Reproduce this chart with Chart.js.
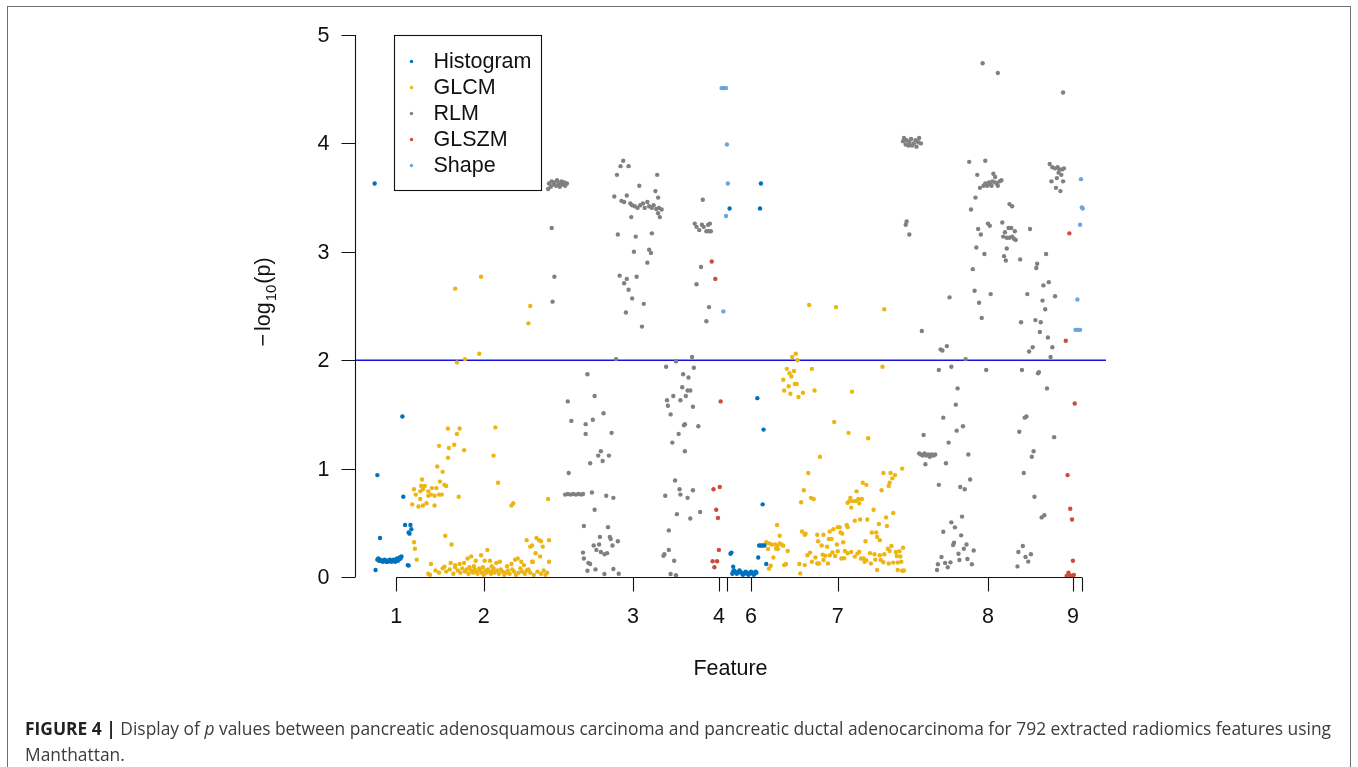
<!DOCTYPE html>
<html>
<head>
<meta charset="utf-8">
<script src="https://cdn.jsdelivr.net/npm/chart.js@4.4.0/dist/chart.umd.min.js"></script>
<style>
html,body{margin:0;padding:0;background:#fff;}
#wrap{position:relative;width:1358px;height:767px;overflow:hidden;background:#fff;}
#frame{position:absolute;left:7px;top:6px;width:1342px;height:820px;border:1px solid #6e6e6e;}
#c{position:absolute;left:0;top:0;}
#caption{position:absolute;left:25px;top:715px;font-family:"Open Sans","Liberation Sans",sans-serif;font-size:17.4px;line-height:26px;color:#3c3c3c;white-space:nowrap;}
#caption b{color:#222;}
</style>
</head>
<body>
<div id="wrap">
<div id="frame"></div>
<canvas id="c" width="1358" height="767"></canvas>
<div id="caption"><b>FIGURE 4 |</b> Display of <i>p</i> values between pancreatic adenosquamous carcinoma and pancreatic ductal adenocarcinoma for 792 extracted radiomics features using<br>Manthattan.</div>
</div>
<script>
// ---------- data (feature position, -log10 p) ----------
const seriesNames = ['Histogram', 'GLCM', 'RLM', 'GLSZM', 'Shape'];
const seriesColors = ['#0072BD', '#EDB512', '#808080', '#CF4A3C', '#6AA6E0'];

const histogram = [
[0,3.63],[35,3.71],[34,3.63],[31,1.48],[3,0.94],[32,0.74],[34,0.48],[40,0.48],[41,0.44],[38,0.41],[39,0.40],[6,0.36],[37,0.11],[38,0.105],[1,0.065],
[3,0.16],[4,0.17],[5,0.15],[6,0.16],[7,0.15],[8,0.15],[9,0.14],[10,0.15],[11,0.16],[12,0.15],[13,0.14],[14,0.15],[15,0.14],[16,0.15],[17,0.16],[18,0.15],[19,0.14],[20,0.15],[21,0.16],[22,0.15],[23,0.14],[24,0.16],[25,0.17],[26,0.15],[27,0.16],[28,0.18],[29,0.17],[30,0.19],
[397,3.40],[432,3.63],[431,3.40],[428,1.65],[435,1.36],[434,0.67],[398,0.215],[399,0.225],[401,0.095],[429,0.18],[438,0.12],[430,0.29],[432,0.29],[434,0.29],[436,0.29],
[400,0.03],[401,0.05],[402,0.06],[403,0.05],[404,0.04],[405,0.03],[406,0.04],[407,0.05],[408,0.06],[409,0.05],[410,0.04],[411,0.03],[412,0.02],[413,0.03],[414,0.04],[415,0.05],[416,0.04],[417,0.03],[418,0.02],[419,0.03],[420,0.04],[421,0.05],[422,0.04],[423,0.03],[424,0.02],[425,0.03],[426,0.05],[427,0.04]
];

const glcm = [
[119,2.77],[90,2.66],[174,2.50],[172,2.34],[117,2.06],[101,2.01],[92,1.98],
[82,1.37],[95,1.37],[92,1.32],[135,1.38],[72,1.21],[83,1.19],[89,1.22],[100,1.17],[82,1.10],[133,1.12],[70,1.02],[76,0.97],[138,0.87],[53,0.90],[73,0.88],[78,0.85],[80,0.84],[44,0.81],[52,0.84],[56,0.84],[51,0.79],[54,0.81],[46,0.76],[60,0.79],[64,0.82],[69,0.82],[60,0.75],[63,0.76],[67,0.75],[72,0.76],[75,0.76],[51,0.72],[94,0.74],[42,0.67],[49,0.65],[54,0.66],[58,0.68],[67,0.66],[153,0.66],[155,0.68],[194,0.72],
[79,0.38],[86,0.30],[44,0.32],[45,0.26],[47,0.16],[63,0.12],[126,0.25],[170,0.34],[174,0.28],[176,0.29],[181,0.36],[184,0.34],[186,0.33],[188,0.28],[195,0.34],[185,0.19],[180,0.22],[176,0.14],[177,0.14],[195,0.14],[78,0.095],[85,0.13],[90,0.11],[95,0.12],
[100,0.13],[104,0.17],[108,0.19],[113,0.15],[119,0.20],[123,0.15],[129,0.15],[131,0.10],[136,0.13],[140,0.14],[148,0.10],[153,0.12],[157,0.16],[160,0.17],[164,0.14],[167,0.11],[172,0.07],
[60,0.03],[62,0.02],[68,0.06],[72,0.04],[76,0.08],[80,0.05],[84,0.07],[88,0.03],[90,0.09],[93,0.06],[96,0.04],[98,0.08],[101,0.05],[103,0.07],[105,0.03],[106,0.09],[108,0.06],[110,0.04],[111,0.10],[112,0.07],[114,0.05],[115,0.03],[117,0.08],[118,0.06],[120,0.04],[121,0.09],[122,0.02],[124,0.06],[125,0.04],[127,0.07],[128,0.05],[130,0.03],[132,0.06],[133,0.08],[134,0.04],[137,0.06],[139,0.03],[141,0.07],[143,0.05],[145,0.02],[147,0.04],[149,0.06],[151,0.03],[154,0.07],[156,0.05],[158,0.02],[161,0.04],[163,0.08],[165,0.05],[168,0.03],[170,0.06],[174,0.04],[178,0.02],[182,0.05],[186,0.03],[189,0.06],[191,0.02],[193,0.04],
[486,2.51],[516,2.49],[570,2.47],[471,2.06],[467,2.03],[473,2.00],[461,1.92],[469,1.90],[464,1.88],[466,1.85],[489,1.92],[457,1.82],[463,1.76],[470,1.78],[472,1.78],[458,1.72],[465,1.69],[474,1.66],[479,1.70],[492,1.72],[534,1.71],[568,1.94],[514,1.43],[530,1.33],[552,1.28],[498,1.11],
[485,0.96],[480,0.80],[477,0.69],[488,0.73],[491,0.72],[546,0.87],[550,0.85],[539,0.79],[532,0.73],[531,0.70],[529,0.685],[535,0.70],[538,0.70],[541,0.72],[545,0.72],[542,0.68],[533,0.64],[558,0.62],[569,0.96],[577,0.96],[582,0.94],[579,0.91],[576,0.87],[575,0.84],[567,0.80],[590,1.00],[572,0.55],[580,0.59],[564,0.49],[573,0.47],[537,0.52],[543,0.53],[551,0.53],[450,0.48],[453,0.38],[478,0.42],[482,0.40],[481,0.39],[495,0.39],[502,0.39],[509,0.42],[513,0.44],[518,0.46],[520,0.46],[521,0.41],[523,0.40],[528,0.48],[529,0.46],[508,0.35],[511,0.35],[496,0.33],[500,0.29],[506,0.28],[517,0.30],[524,0.32],[549,0.33],[556,0.41],[561,0.41],[562,0.37],[565,0.34],
[438,0.32],[441,0.31],[444,0.30],[448,0.30],[450,0.286],[453,0.31],[455,0.30],[457,0.289],[440,0.258],[449,0.26],[451,0.258],[462,0.24],[446,0.18],[443,0.104],[441,0.077],[458,0.11],[460,0.12],[475,0.12],[481,0.11],[476,0.033],[484,0.20],[487,0.225],[493,0.18],[489,0.14],
[495,0.125],[497,0.125],[502,0.157],[501,0.206],[504,0.197],[507,0.125],[509,0.20],[512,0.227],[515,0.194],[518,0.237],[522,0.17],[525,0.173],[526,0.24],[529,0.219],[533,0.23],[537,0.188],[540,0.216],[542,0.233],[544,0.17],[547,0.17],[550,0.153],[548,0.14],[554,0.22],[555,0.125],[560,0.16],[559,0.21],[565,0.20],[570,0.21],[574,0.26],[576,0.24],[578,0.286],[583,0.23],[584,0.194],[587,0.237],[591,0.27],[588,0.19],[589,0.14],[585,0.133],[580,0.133],[575,0.124],[569,0.136],[566,0.157],[562,0.065],[585,0.065],[592,0.06],[590,0.058]
];

const rlm = [
[194,3.58],[195,3.63],[197,3.60],[198,3.65],[200,3.62],[201,3.64],[203,3.61],[204,3.66],[206,3.63],[207,3.60],[209,3.65],[210,3.62],[212,3.64],[213,3.61],[215,3.63],[198,3.22],[201,2.77],[199,2.54],
[278,3.84],[275,3.79],[284,3.79],[271,3.71],[316,3.71],[296,3.61],[268,3.51],[282,3.52],[314,3.56],[317,3.50],[276,3.47],[279,3.46],[286,3.445],[288,3.43],[291,3.42],[294,3.405],[297,3.43],[300,3.445],[302,3.405],[305,3.46],[307,3.42],[310,3.405],[312,3.43],[315,3.395],[318,3.405],[321,3.39],[317,3.355],[319,3.32],[287,3.32],[272,3.16],[292,3.14],[310,3.17],[290,3.00],[307,3.02],[309,2.99],[305,2.90],[274,2.78],[279,2.71],[282,2.75],[293,2.77],[284,2.65],[288,2.57],[301,2.52],[281,2.44],[299,2.31],[270,2.01],
[367,3.48],[358,3.26],[360,3.23],[363,3.20],[366,3.25],[368,3.23],[371,3.19],[374,3.19],[376,3.19],[373,3.25],[375,3.26],[365,2.86],[360,2.70],[374,2.49],[371,2.36],[355,2.03],[337,1.99],[326,1.94],
[238,1.87],[246,1.67],[216,1.62],[220,1.44],[236,1.41],[244,1.45],[256,1.51],[236,1.32],[265,1.33],[253,1.16],[250,1.12],[262,1.12],[255,1.07],[241,1.05],[217,0.96],[213,0.76],[216,0.765],[219,0.76],[222,0.765],[225,0.76],[228,0.765],[231,0.76],[233,0.765],[243,0.78],[259,0.75],[267,0.73],[246,0.62],[234,0.47],[261,0.46],[252,0.37],[263,0.37],[264,0.35],[272,0.33],[245,0.29],[251,0.30],[248,0.25],[253,0.23],[257,0.21],[260,0.22],[266,0.29],[233,0.225],[234,0.17],[239,0.13],[241,0.12],[238,0.057],[247,0.07],[257,0.027],[267,0.074],[273,0.03],
[345,1.87],[351,1.84],[357,1.93],[334,1.67],[327,1.63],[328,1.58],[342,1.63],[348,1.67],[350,1.72],[353,1.72],[344,1.75],[331,1.50],[356,1.57],[340,1.32],[346,1.40],[347,1.41],[362,1.39],[333,1.24],[347,1.16],[336,0.89],[341,0.81],[342,0.76],[325,0.75],[350,0.73],[356,0.80],[338,0.58],[353,0.54],[364,0.60],[329,0.43],[329,0.25],[323,0.195],[324,0.21],[335,0.15],[331,0.027],[337,0.017],
[591,4.02],[592,4.05],[594,3.99],[595,4.03],[597,3.98],[598,4.01],[600,4.04],[601,3.98],[603,4.00],[605,4.03],[606,3.97],[608,4.01],[609,4.05],[611,4.00],[594,3.25],[595,3.28],[598,3.16],
[680,4.74],[697,4.65],[770,4.47],[665,3.83],[683,3.84],[674,3.71],[692,3.72],[694,3.69],[677,3.59],[681,3.61],[685,3.61],[689,3.62],[691,3.65],[694,3.64],[696,3.63],[699,3.65],[701,3.66],[697,3.61],[690,3.61],[683,3.63],[687,3.64],[672,3.50],[667,3.39],[710,3.44],[713,3.42],
[755,3.81],[758,3.78],[761,3.77],[764,3.78],[766,3.76],[769,3.76],[771,3.77],[765,3.73],[768,3.71],[757,3.65],[763,3.68],[770,3.65],[762,3.59],[767,3.56],
[675,3.21],[678,3.16],[686,3.26],[688,3.24],[702,3.27],[709,3.22],[712,3.22],[705,3.18],[707,3.13],[710,3.13],[713,3.14],[715,3.12],[717,3.11],[716,3.19],[703,3.14],[733,3.21],[673,3.04],[682,2.98],[707,3.03],[704,2.96],[706,2.92],[722,2.93],[751,2.98],[741,2.89],[740,2.85],[669,2.84],[754,2.72],[748,2.69],[671,2.64],[689,2.61],[676,2.53],[730,2.61],[761,2.59],[747,2.55],[750,2.47],[643,2.58],[679,2.39],[723,2.35],[739,2.37],[745,2.35],[744,2.26],[753,2.21],[612,2.27],[633,2.10],[635,2.09],[640,2.13],[736,2.12],[732,2.08],[758,2.12],[756,2.03],[661,2.01],[631,1.91],[645,1.94],[684,1.91],[724,1.91],[742,1.88],[743,1.89],
[652,1.74],[752,1.74],[650,1.59],[636,1.47],[658,1.39],[651,1.35],[727,1.47],[729,1.48],[721,1.34],[760,1.29],[614,1.31],[642,1.24],[609,1.14],[611,1.13],[613,1.12],[615,1.14],[617,1.12],[619,1.13],[621,1.11],[623,1.13],[625,1.12],[627,1.13],[616,1.04],[639,1.05],[664,1.13],[737,1.16],[735,1.11],[726,0.96],[666,0.90],[631,0.85],[655,0.83],[660,0.81],[738,0.74],[746,0.55],[749,0.57],
[629,0.065],[630,0.117],[634,0.185],[638,0.13],[641,0.09],[644,0.135],[647,0.295],[648,0.316],[649,0.458],[645,0.504],[636,0.418],[653,0.215],[654,0.157],[656,0.384],[657,0.557],[659,0.26],[662,0.30],[663,0.166],[668,0.117],[670,0.245],[719,0.098],[720,0.23],[725,0.286],[728,0.185],[731,0.142],[734,0.21]
];

const glszm = [
[377,2.91],[381,2.75],[387,1.62],[379,0.81],[386,0.83],[382,0.62],[384,0.545],[385,0.25],[378,0.145],[383,0.145],[380,0.09],
[777,3.17],[773,2.18],[783,1.60],[775,0.94],[778,0.63],[780,0.53],[781,0.15],[776,0.04],[774,0.01],[778,0.015],[781,0.01],[782,0.02]
];

const shape = [
[388,4.51],[390,4.51],[391,4.51],[393,4.51],[394,3.99],[395,3.63],[393,3.33],[390,2.45],
[790,3.67],[791,3.41],[792,3.40],[789,3.25],[786,2.56],[784,2.28],[785,2.28],[787,2.28],[789,2.28]
];

const groupLabels = ['1','2','3','4','5','6','7','8','9','10'];
const groupCenters = [24, 122, 289, 385, 394, 421, 518, 686, 781, 791];
const yTicks = [0, 1, 2, 3, 4, 5];
const THRESHOLD = 2;
const X_MIN = -22, X_MAX = 818;

// ---------- drawing ----------
const FONT = '"Liberation Sans", Arial, Helvetica, sans-serif';
const FS = 21.5;
const TICK = 14;

const allSeries = [histogram, glcm, rlm, glszm, shape];

const rAxes = {
  id: 'rAxes',
  afterDraw(chart) {
    const { ctx, chartArea: a, scales: { x, y } } = chart;
    ctx.save();
    ctx.strokeStyle = '#111';
    ctx.fillStyle = '#111';
    ctx.lineWidth = 1.1;
    ctx.font = FS + 'px ' + FONT;

    // y axis
    const ax = Math.round(a.left) + 0.5;
    ctx.beginPath();
    ctx.moveTo(ax, y.getPixelForValue(yTicks[0]));
    ctx.lineTo(ax, y.getPixelForValue(yTicks[yTicks.length - 1]));
    yTicks.forEach(t => {
      const py = Math.round(y.getPixelForValue(t)) + 0.5;
      ctx.moveTo(ax, py);
      ctx.lineTo(ax - TICK, py);
    });
    ctx.stroke();
    ctx.textAlign = 'right';
    ctx.textBaseline = 'middle';
    yTicks.forEach(t => ctx.fillText(String(t), ax - TICK - 12, y.getPixelForValue(t) + 1));

    // x axis (from first to last group centre, like R)
    const by = Math.round(a.bottom) + 0.5;
    ctx.beginPath();
    ctx.moveTo(x.getPixelForValue(groupCenters[0]), by);
    ctx.lineTo(x.getPixelForValue(groupCenters[groupCenters.length - 1]), by);
    groupCenters.forEach(c => {
      const px = Math.round(x.getPixelForValue(c)) + 0.5;
      ctx.moveTo(px, by);
      ctx.lineTo(px, by + TICK);
    });
    ctx.stroke();
    ctx.textAlign = 'center';
    ctx.textBaseline = 'middle';
    let lastRight = -Infinity;
    const gap = FS * 0.5;
    groupCenters.forEach((c, i) => {
      const px = x.getPixelForValue(c);
      const w = ctx.measureText(groupLabels[i]).width;
      if (px - w / 2 > lastRight + gap) {
        ctx.fillText(groupLabels[i], px, by + 40);
        lastRight = px + w / 2;
      }
    });

    // axis titles
    ctx.fillText('Feature', (a.left + a.right) / 2, a.bottom + 92);

    ctx.save();
    ctx.translate(a.left - 92, (a.top + a.bottom) / 2 - 4);
    ctx.rotate(-Math.PI / 2);
    const big = FS + 'px ' + FONT, small = Math.round(FS * 0.7) + 'px ' + FONT;
    const parts = [['\u2212', big, 0, 3], ['log', big, 0, 1], ['10', small, 6, 1], ['(p)', big, 0, 0]];
    let total = 0;
    parts.forEach(p => { ctx.font = p[1]; total += ctx.measureText(p[0]).width + p[3]; });
    let cx = -total / 2;
    ctx.textAlign = 'left';
    ctx.textBaseline = 'alphabetic';
    parts.forEach(p => {
      ctx.font = p[1];
      ctx.fillText(p[0], cx, 7 + p[2]);
      cx += ctx.measureText(p[0]).width + p[3];
    });
    ctx.restore();

    ctx.restore();
  }
};

const rLegend = {
  id: 'rLegend',
  afterDraw(chart) {
    const { ctx, chartArea: a } = chart;
    const L = Math.round(a.left + 39) + 0.5, T = Math.round(a.top) + 0.5;
    const W = 147, H = 155, ROW = 26;
    ctx.save();
    ctx.strokeStyle = '#111';
    ctx.lineWidth = 1.1;
    ctx.fillStyle = '#fff';
    ctx.fillRect(L, T, W, H);
    ctx.strokeRect(L, T, W, H);
    ctx.font = FS + 'px ' + FONT;
    ctx.textAlign = 'left';
    ctx.textBaseline = 'middle';
    chart.data.datasets.forEach((ds, i) => {
      if (ds.type === 'line') return;
      const cy = T + ROW * (i + 1);
      ctx.fillStyle = ds.backgroundColor;
      ctx.beginPath();
      ctx.arc(L + 17, cy, 1.7, 0, Math.PI * 2);
      ctx.fill();
      ctx.fillStyle = '#111';
      ctx.fillText(ds.label, L + 39, cy + 1);
    });
    ctx.restore();
  }
};

const datasets = allSeries.map((pts, i) => ({
  label: seriesNames[i],
  data: pts.map(p => ({ x: p[0], y: p[1] })),
  backgroundColor: seriesColors[i],
  borderWidth: 0,
  pointRadius: 2.2,
  pointHoverRadius: 2.2,
  clip: false
}));
datasets.push({
  type: 'line',
  label: 'threshold',
  data: [{ x: X_MIN, y: THRESHOLD }, { x: X_MAX, y: THRESHOLD }],
  borderColor: '#1414e0',
  borderWidth: 1.6,
  pointRadius: 0,
  fill: false,
  order: 10
});

new Chart(document.getElementById('c'), {
  type: 'scatter',
  data: { datasets },
  options: {
    responsive: false,
    animation: false,
    devicePixelRatio: 1,
    layout: { padding: { left: 355, right: 252, top: 35, bottom: 190 } },
    scales: {
      x: { type: 'linear', min: X_MIN, max: X_MAX, display: false },
      y: { type: 'linear', min: 0, max: 5, display: false }
    },
    plugins: { legend: { display: false }, tooltip: { enabled: false } }
  },
  plugins: [rAxes, rLegend]
});
</script>
</body>
</html>
